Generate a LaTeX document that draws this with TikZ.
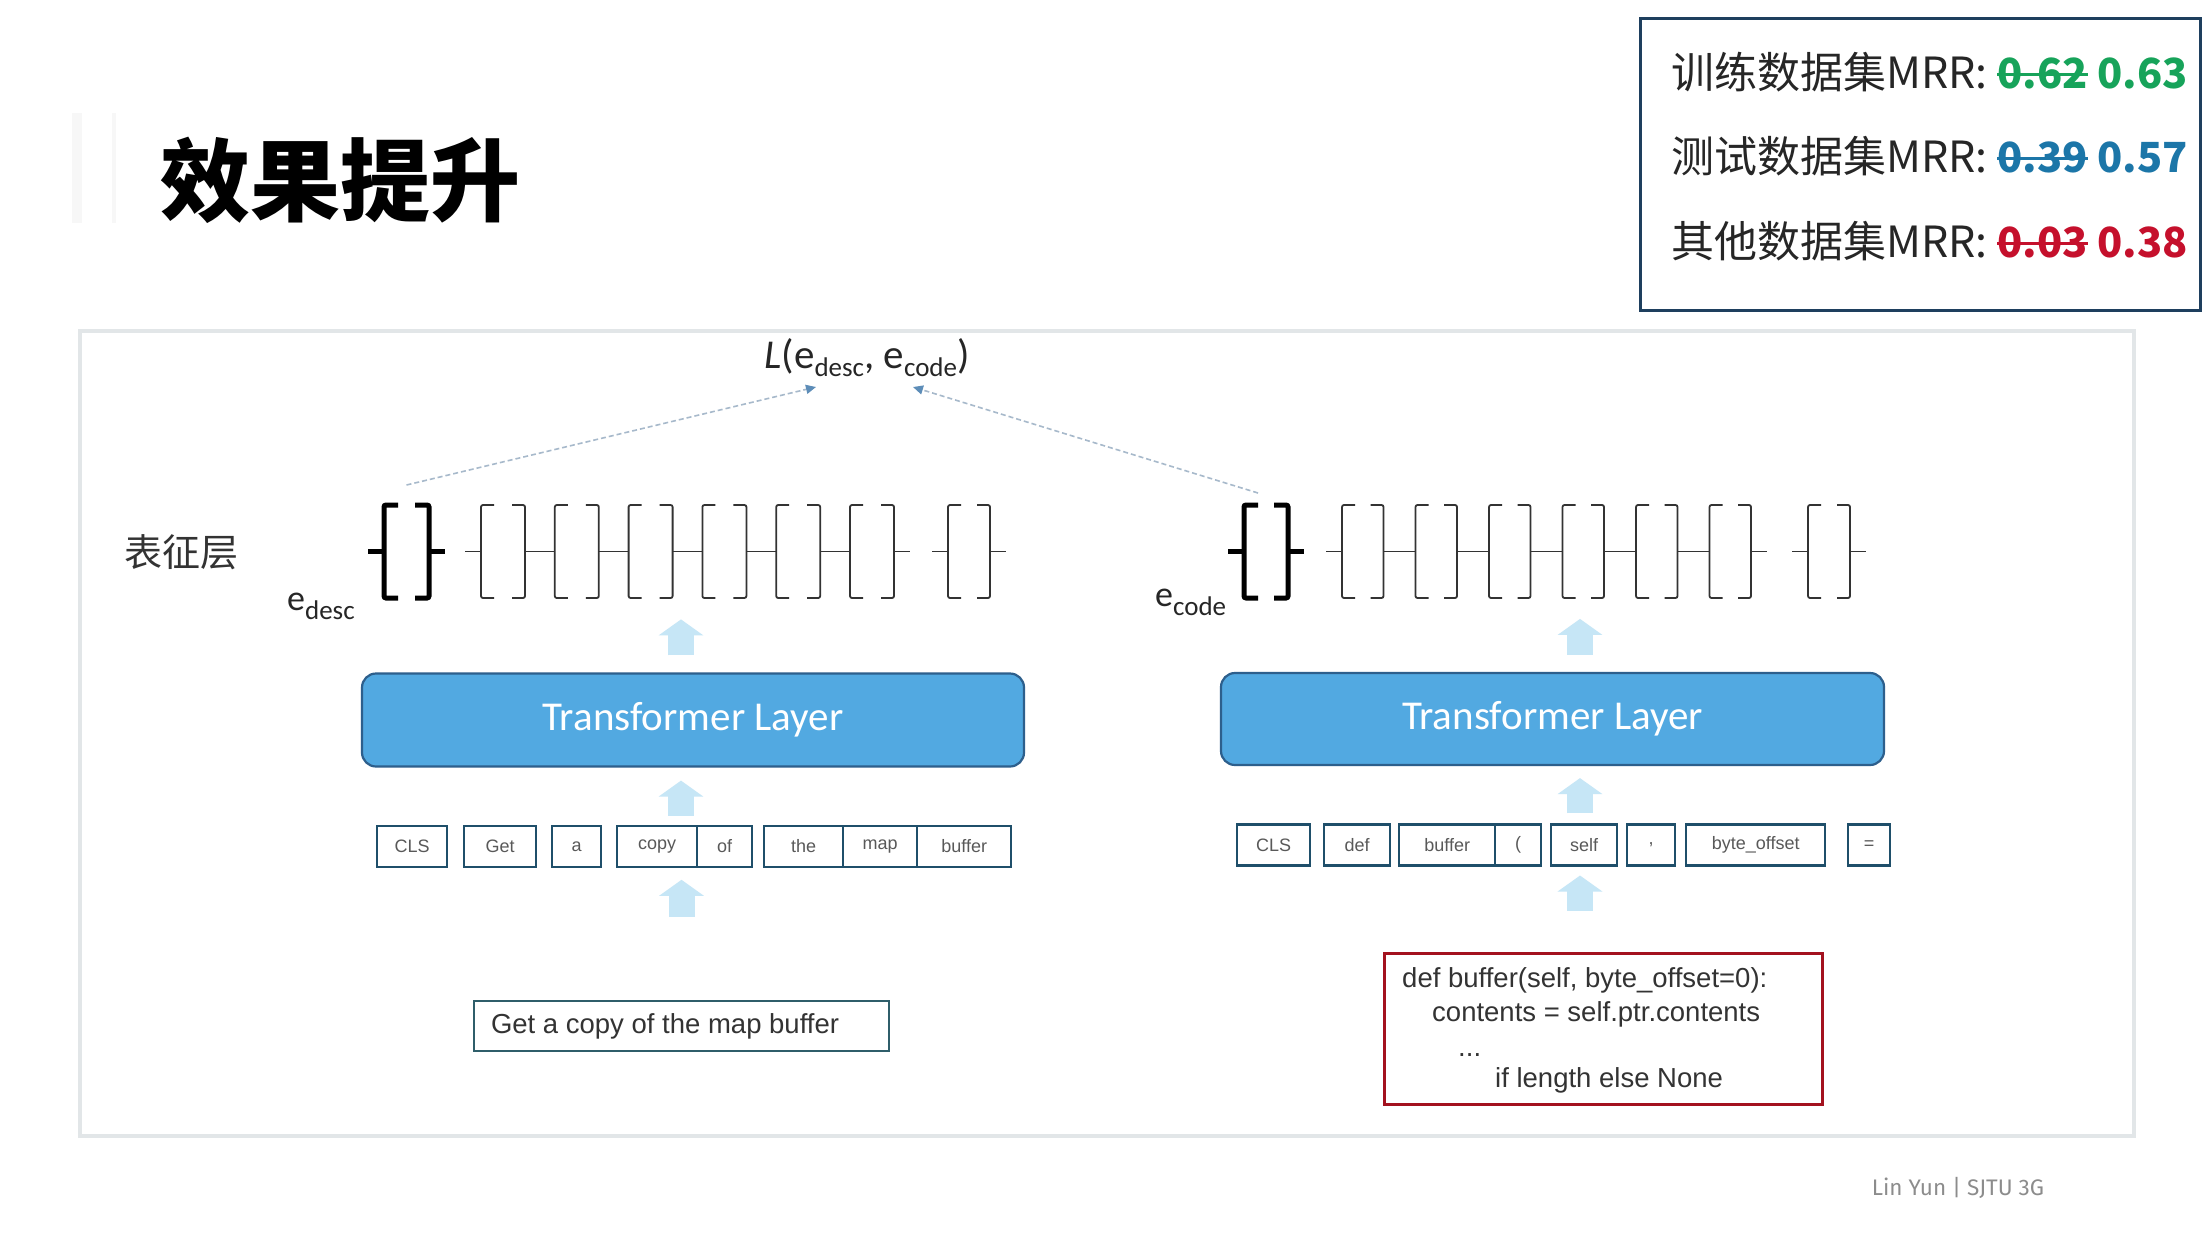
\documentclass[tikz,border=0pt]{standalone}
\usepackage{fontspec}
\setmainfont{Liberation Sans}
\newfontfamily\cjk{Noto Sans CJK SC}
\newfontfamily\calfont{Carlito}
\newfontfamily\firafont{Fira Sans}
\usetikzlibrary{arrows.meta}
\definecolor{panelgray}{HTML}{E2E6E8}
\definecolor{transfill}{HTML}{52A9E1}
\definecolor{transborder}{HTML}{2D5F8C}
\definecolor{arrowblue}{HTML}{C6E6F6}
\definecolor{tokborder}{HTML}{1F4F6A}
\definecolor{descborder}{HTML}{2F5E6A}
\definecolor{codeborder}{HTML}{A3121F}
\definecolor{navybox}{HTML}{1E3F5E}
\definecolor{cgreen}{HTML}{17A35A}
\definecolor{cblue}{HTML}{1C76A8}
\definecolor{cred}{HTML}{C5102C}
\definecolor{dashcol}{HTML}{A7B9CB}
\definecolor{tipblue}{HTML}{5D8DB8}
\newsavebox\strkbox
\newcommand\mystrike[1]{\sbox\strkbox{#1}\rlap{\rule[0.3em]{\wd\strkbox}{0.06em}}\usebox\strkbox}
\newcommand\fsz[1]{\fontsize{#1}{#1}\selectfont}
\newcommand\bpair[3]{%
  \draw[#2] ([xshift=#3]#1.north west) -- (#1.north west) -- (#1.south west) -- ([xshift=#3]#1.south west);
  \draw[#2] ([xshift=-#3]#1.north east) -- (#1.north east) -- (#1.south east) -- ([xshift=-#3]#1.south east);
  \draw[#2] (#1.west) -- ([xshift=-16pt]#1.west);
  \draw[#2] (#1.east) -- ([xshift=16pt]#1.east);
}
\tikzset{
  pairbox/.style={inner sep=0pt, outer sep=0pt, minimum height=93pt, draw=none},
  boldbr/.style={line width=5pt, black, rounded corners=2pt},
  lightbr/.style={line width=1.8pt, black!80, rounded corners=2pt},
  trans/.style={rounded corners=14pt, fill=transfill, draw=transborder, line width=2.2pt,
    minimum width=662pt, minimum height=93pt, text=white, font=\calfont\fsz{41}, inner sep=0pt},
  tok/.style={draw=tokborder, line width=2.4pt, fill=white, minimum height=41pt, inner sep=0pt,
    font=\fsz{18}, text=black!65, anchor=west},
  blockarrow/.style={draw=arrowblue, line width=26pt, -{Triangle[length=16pt,width=44pt]}},
  lossarrow/.style={draw=dashcol, line width=1.6pt, dash pattern=on 5pt off 3pt,
    -{Triangle[length=10pt,width=9pt,color=tipblue]}},
  codeline/.style={anchor=base west, inner sep=0pt, font=\fsz{27.5}, text=black!80},
  mrrline/.style={anchor=base west, inner sep=0pt, font=\cjk\fsz{43}, text=black!85},
}
\begin{document}
\begin{tikzpicture}[x=1pt,y=-1pt]
\useasboundingbox (0,0) rectangle (2208,1234);
\fill[white] (0,0) rectangle (2208,1234);

% faint bars near the title
\fill[black!3] (72,113) rectangle (82,223);
\fill[black!3] (112,113) rectangle (116,223);

% title
\node[anchor=west, inner sep=0pt, font=\cjk\bfseries\fsz{90}] (title) at (160,180) {效果提升};

% results box
\node[draw=navybox, line width=3pt, fill=white, minimum width=560pt, minimum height=292pt] (mrr) at (1920,164) {};
\node[mrrline] (m1) at (1671,88) {训练数据集MRR: \textcolor{cgreen}{\fsz{41.5}\bfseries\mystrike{0.62} 0.63}};
\node[mrrline] (m2) at (1671,172) {测试数据集MRR: \textcolor{cblue}{\fsz{41.5}\bfseries\mystrike{0.39} 0.57}};
\node[mrrline] (m3) at (1671,257) {其他数据集MRR: \textcolor{cred}{\fsz{41.5}\bfseries\mystrike{0.03} 0.38}};

% panel
\draw[panelgray, line width=4pt] (80,331) rectangle (2134,1136);

% loss label
\node[anchor=south, inner sep=0pt, font=\calfont\fsz{41}, text=black!85] (loss) at (867,377)
  {\itshape L\upshape(e\raisebox{-8pt}{\fsz{27}desc}, e\raisebox{-8pt}{\fsz{27}code})};

% representation layer label
\node[anchor=west, inner sep=0pt, font=\cjk\fsz{38}, text=black!80] (rep) at (124,552) {表征层};

% left bracket row
\node[pairbox, minimum width=45pt] (L0) at (406.5,551.5) {};
\bpair{L0}{boldbr}{14pt}
\foreach \i/\x in {1/481,2/554.8,3/628.6,4/702.4,5/776.2,6/850}{
  \node[pairbox, minimum width=44pt] (L\i) at (\x+22,551.5) {};
  \bpair{L\i}{lightbr}{13pt}
}
\node[pairbox, minimum width=42pt] (L7) at (969,551.5) {};
\bpair{L7}{lightbr}{13pt}
\node[anchor=base west, inner sep=0pt, font=\calfont\fsz{36}, text=black!85] (edesc) at (287,610)
  {e\raisebox{-9pt}{\fsz{27}desc}};

% right bracket row
\node[pairbox, minimum width=44pt] (R0) at (1266,551.5) {};
\bpair{R0}{boldbr}{14pt}
\foreach \i/\x in {1/1342,2/1415.5,3/1489,4/1562.5,5/1636,6/1709.5}{
  \node[pairbox, minimum width=41.5pt] (R\i) at (\x+20.75,551.5) {};
  \bpair{R\i}{lightbr}{13pt}
}
\node[pairbox, minimum width=42pt] (R7) at (1829,551.5) {};
\bpair{R7}{lightbr}{13pt}
\node[anchor=base west, inner sep=0pt, font=\calfont\fsz{36}, text=black!85] (ecode) at (1155,606)
  {e\raisebox{-9pt}{\fsz{27}code}};

% loss arrows
\draw[lossarrow] ([yshift=20pt]L0.north) -- ([xshift=-51pt,yshift=-10pt]loss.south);
\draw[lossarrow] ([xshift=-8pt,yshift=12pt]R0.north) -- ([xshift=46pt,yshift=-10pt]loss.south);

% transformer layers
\node[trans] (transL) at (693,720) {Transformer Layer};
\node[trans, minimum width=663pt, minimum height=92pt] (transR) at (1552.5,719) {Transformer Layer};

% tokens left
\node[tok, minimum width=70pt] (tL1) at (376,846.5) {CLS};
\node[tok, minimum width=72pt] (tL2) at (463,846.5) {Get};
\node[tok, minimum width=49pt] (tL3) at (551,846.5) {a};
\node[tok, minimum width=80pt] (tL4) at (616,846.5) {copy};
\node[tok, minimum width=55pt] (tL5) at (696,846.5) {of};
\node[tok, minimum width=79pt] (tL6) at (763,846.5) {the};
\node[tok, minimum width=74pt] (tL7) at (842,846.5) {map};
\node[tok, minimum width=94pt] (tL8) at (916,846.5) {buffer};

% tokens right
\node[tok, minimum width=73pt] (tR1) at (1236,845) {CLS};
\node[tok, minimum width=66pt] (tR2) at (1323,845) {def};
\node[tok, minimum width=96pt] (tR3) at (1398,845) {buffer};
\node[tok, minimum width=46pt] (tR4) at (1494,845) {(};
\node[tok, minimum width=66pt] (tR5) at (1550,845) {self};
\node[tok, minimum width=48pt] (tR6) at (1626,845) {,};
\node[tok, minimum width=139pt] (tR7) at (1685,845) {byte\_offset};
\node[tok, minimum width=42pt] (tR8) at (1847,845) {=};

% description
\node[draw=descborder, line width=2.4pt, fill=white, minimum height=50pt,
  inner sep=0pt, font=\fsz{27.5}, text=black!80] (desc) at (681.5,1026)
  {\makebox[415pt][l]{\hspace{17pt}Get a copy of the map buffer}};

% code box
\node[draw=codeborder, line width=3pt, fill=white, minimum width=438pt, minimum height=151pt] (code) at (1603,1028.5) {};
\node[codeline] (c1) at (1402,987) {def buffer(self, byte\_offset=0):};
\node[codeline] (c2) at (1432,1021) {contents = self.ptr.contents};
\node[codeline] (c3) at (1458,1056) {...};
\node[codeline] (c4) at (1495,1087) {if length else None};

% block arrows left
\draw[blockarrow] ([xshift=-12pt,yshift=17pt]transL.north) -- ([xshift=-12pt,yshift=53pt]transL.north);
\draw[blockarrow] ([xshift=-12pt,yshift=-48pt]transL.south) -- ([xshift=-12pt,yshift=-13pt]transL.south);
\draw[blockarrow] ([yshift=83pt]desc.north) -- ([yshift=120pt]desc.north);

% block arrows right
\draw[blockarrow] ([xshift=27.5pt,yshift=17pt]transR.north) -- ([xshift=27.5pt,yshift=53pt]transR.north);
\draw[blockarrow] ([xshift=27.5pt,yshift=-47pt]transR.south) -- ([xshift=27.5pt,yshift=-12pt]transR.south);
\draw[blockarrow] ([xshift=-23pt,yshift=41pt]code.north) -- ([xshift=-23pt,yshift=76pt]code.north);

% footer
\node[inner sep=0pt, font=\firafont\fsz{22.5}, text=black!45] (foot) at (1958,1188) {Lin Yun | SJTU 3G};
\end{tikzpicture}
\end{document}
